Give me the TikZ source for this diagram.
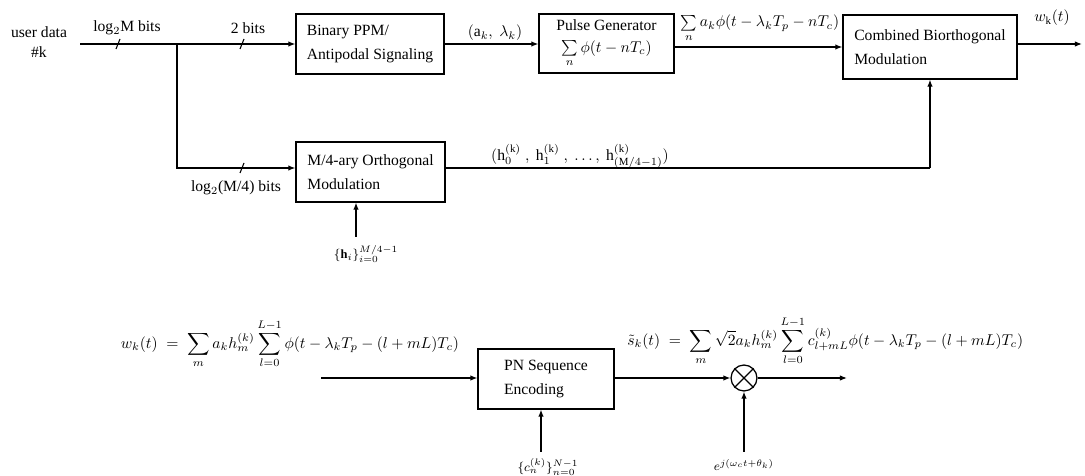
\documentclass[tikz,border=0pt]{standalone}
\usepackage{amsmath}
\usepackage{fontspec}
\setmainfont{Liberation Serif}
\usetikzlibrary{arrows.meta,calc}
\begin{document}
\begin{tikzpicture}[x=0.64pt,y=-0.64pt,
  blk/.style={draw,line width=0.8pt,align=left,inner sep=0pt,font=\fontsize{10}{15}\selectfont},
  arr/.style={-{Latex[length=4.5pt,width=3.5pt]},line width=0.8pt},
  wire/.style={line width=0.8pt},
  tick/.style={line width=0.7pt},
  lbl/.style={inner sep=0pt,font=\fontsize{10}{13}\selectfont},
  slbl/.style={inner sep=0pt,font=\footnotesize},
]
\useasboundingbox (0,0) rectangle (1085,476);

% blocks
\node[blk,minimum width=94.7pt,minimum height=38.4pt] (bin) at (370,44) {Binary PPM/\\Antipodal Signaling};
\node[blk,align=center,minimum width=86.4pt,minimum height=37.8pt] (pulse) at (606.5,43.5) {Pulse Generator\\[-1pt]$\sum\limits_{n}\phi(t-nT_c)$};
\node[blk,minimum width=111.4pt,minimum height=41pt] (comb) at (930,47) {Combined Biorthogonal\\Modulation};
\node[blk,minimum width=95.4pt,minimum height=38.4pt] (m4) at (370.5,172) {M/4-ary Orthogonal\\Modulation};
\node[blk,minimum width=87pt,minimum height=38.4pt] (pn) at (546,379) {PN Sequence\\Encoding};
\node[draw,circle,minimum size=16.6pt,inner sep=0pt,line width=0.8pt] (mul) at (744,378) {};
\draw[wire] (mul.north west) -- (mul.south east) (mul.north east) -- (mul.south west);

% top input
\node[lbl,align=center] (user) at (39,42) {user data\\\#k};
\coordinate (start) at (80,44);
\coordinate (br) at (177,44);
\coordinate (brlow) at (177,168);
\draw[wire] (start) -- (br);
\draw[arr] (br) -- (bin.west);
\draw[arr] (br) -- (brlow) -- (m4.west |- brlow);
\draw[tick] (116,49) -- (120,39);
\draw[tick] (240,49) -- (244,39);
\draw[tick] (240,173) -- (244,163);
\node[lbl] (l1) at (127,28) {log$_2$M bits};
\node[lbl] (l2) at (248,28) {2 bits};
\node[lbl] (l3) at (236,188) {log$_2$(M/4) bits};

% top chain
\draw[arr] (bin.east) -- (pulse.west |- bin.east);
\node[lbl] (ak) at (495,33) {$(\mathrm{a}_k,\ \lambda_k)$};
\draw[arr] (pulse.east |- comb.west) -- (comb.west);
\node[lbl,anchor=base] (pf) at (760,27) {$\sum\limits_{n} a_k\phi(t-\lambda_k T_p-nT_c)$};
\coordinate (out) at (1082,44);
\draw[arr] (comb.east |- out) -- (out);
\node[lbl] (wk) at (1052,18) {$w_{\mathrm{k}}(t)$};

% orthogonal branch
\coordinate (hc) at (comb.south |- brlow);
\draw[wire] (m4.east |- brlow) -- (hc);
\draw[arr] (hc) -- (comb.south);
\node[lbl] (hl) at (580,156) {$(\mathrm{h}_0^{(\mathrm{k})}\ ,\ \mathrm{h}_1^{(\mathrm{k})}\ ,\ \ldots,\ \mathrm{h}_{(\mathrm{M}/4-1)}^{(\mathrm{k})})$};
\coordinate (hin) at (356,237);
\draw[arr] (hin) -- (hin |- m4.south);
\node[slbl] (hset) at (366,254) {$\{\mathbf{h}_i\}_{i=0}^{M/4-1}$};

% bottom chain
\node[lbl] (wf) at (290,344) {$\displaystyle w_k(t) \;=\; \sum_m a_k h_m^{(k)} \sum_{l=0}^{L-1}\phi(t-\lambda_k T_p-(l+mL)T_c)$};
\coordinate (win) at (321,378);
\draw[arr] (win) -- (pn.west |- win);
\draw[arr] (pn.east |- mul) -- (mul.west);
\coordinate (sout) at (847,378);
\draw[arr] (mul.east) -- (sout);
\coordinate (cin) at (541,452);
\draw[arr] (cin) -- (cin |- pn.south);
\node[slbl] (cset) at (548,467) {$\{c_n^{(k)}\}_{n=0}^{N-1}$};
\coordinate (ein) at (744,452);
\draw[arr] (ein) -- (mul.south);
\node[slbl] (eset) at (744,465) {$e^{j(\omega_c t+\theta_k)}$};
\node[lbl,anchor=west] (sf) at (627,341) {$\displaystyle \tilde{s}_k(t) \;=\; \sum_m \sqrt{2}a_k h_m^{(k)} \sum_{l=0}^{L-1} c_{l+mL}^{(k)}\phi(t-\lambda_k T_p-(l+mL)T_c)$};
\end{tikzpicture}
\end{document}
